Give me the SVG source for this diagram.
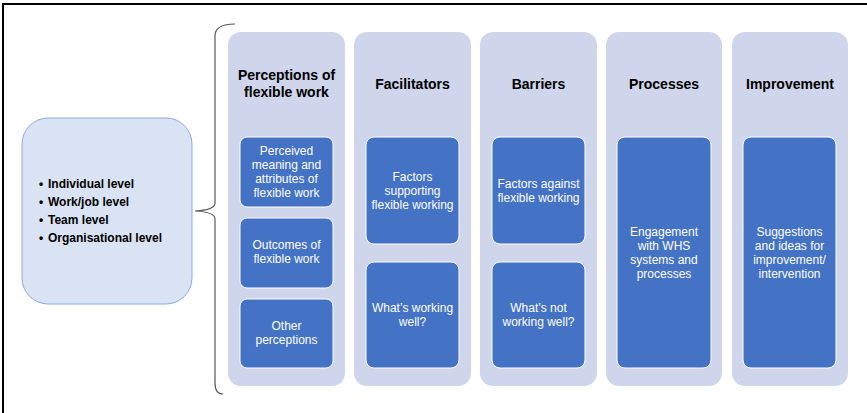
<svg xmlns="http://www.w3.org/2000/svg" width="867" height="413" viewBox="0 0 867 413">
<style>
.col{fill:#cfd5ea;}
.box{fill:#4472c4;stroke:#ffffff;stroke-width:1;}
.h{font-family:"Liberation Sans",Arial,sans-serif;font-size:14px;font-weight:bold;fill:#000;text-anchor:middle;}
.t{font-family:"Liberation Sans",Arial,sans-serif;font-size:12px;fill:#ffffff;text-anchor:middle;}
.l{font-family:"Liberation Sans",Arial,sans-serif;font-size:12px;font-weight:bold;fill:#000;}
</style>
<rect x="0" y="0" width="867" height="413" fill="#ffffff"/>
<rect x="3" y="4" width="880" height="430" fill="none" stroke="#000" stroke-width="2"/>
<g id="levels">
<rect x="22" y="118" width="170" height="186" rx="26" fill="#dae3f3" stroke="#8faadc" stroke-width="1"/>
<text class="l" x="39" y="188">•</text><text class="l" x="48" y="188">Individual level</text>
<text class="l" x="39" y="206">•</text><text class="l" x="48" y="206">Work/job level</text>
<text class="l" x="39" y="224">•</text><text class="l" x="48" y="224">Team level</text>
<text class="l" x="39" y="242">•</text><text class="l" x="48" y="242">Organisational level</text>
</g>
<g id="connectors">
<path d="M235,24 Q215,24 215,36 L215,203 Q215,210 195,211 Q215,212 215,219 L215,383 Q215,394 223,394" fill="none" stroke="#595959" stroke-width="1.2"/>
</g>
<g id="perceptions">
<rect class="col" x="228" y="32" width="117" height="354" rx="13"/>
<text class="h" x="286.5" y="80">Perceptions of</text>
<text class="h" x="286.5" y="97">flexible work</text>
<rect class="box" x="240" y="137" width="93" height="70" rx="7"/>
<text class="t" x="286.5" y="155">Perceived</text>
<text class="t" x="286.5" y="169">meaning and</text>
<text class="t" x="286.5" y="183">attributes of</text>
<text class="t" x="286.5" y="197">flexible work</text>
<rect class="box" x="240" y="218" width="93" height="70" rx="7"/>
<text class="t" x="286.5" y="249">Outcomes of</text>
<text class="t" x="286.5" y="263">flexible work</text>
<rect class="box" x="240" y="299" width="93" height="69" rx="7"/>
<text class="t" x="286.5" y="330">Other</text>
<text class="t" x="286.5" y="344">perceptions</text>
</g>
<g id="facilitators">
<rect class="col" x="354" y="32" width="117" height="354" rx="13"/>
<text class="h" x="412.5" y="89">Facilitators</text>
<rect class="box" x="366" y="137" width="93" height="107" rx="8"/>
<text class="t" x="412.5" y="181">Factors</text>
<text class="t" x="412.5" y="195">supporting</text>
<text class="t" x="412.5" y="209">flexible working</text>
<rect class="box" x="366" y="262" width="93" height="106" rx="8"/>
<text class="t" x="412.5" y="312">What’s working</text>
<text class="t" x="412.5" y="326">well?</text>
</g>
<g id="barriers">
<rect class="col" x="480" y="32" width="117" height="354" rx="13"/>
<text class="h" x="538.5" y="89">Barriers</text>
<rect class="box" x="492" y="137" width="93" height="107" rx="8"/>
<text class="t" x="538.5" y="188">Factors against</text>
<text class="t" x="538.5" y="202">flexible working</text>
<rect class="box" x="492" y="262" width="93" height="106" rx="8"/>
<text class="t" x="538.5" y="312">What’s not</text>
<text class="t" x="538.5" y="326">working well?</text>
</g>
<g id="processes">
<rect class="col" x="606" y="32" width="116" height="354" rx="13"/>
<text class="h" x="664" y="89">Processes</text>
<rect class="box" x="617" y="137" width="94" height="231" rx="8"/>
<text class="t" x="664" y="236">Engagement</text>
<text class="t" x="664" y="250">with WHS</text>
<text class="t" x="664" y="264">systems and</text>
<text class="t" x="664" y="278">processes</text>
</g>
<g id="improvement">
<rect class="col" x="732" y="32" width="116" height="354" rx="13"/>
<text class="h" x="790" y="89">Improvement</text>
<rect class="box" x="743" y="137" width="93" height="231" rx="8"/>
<text class="t" x="789.5" y="236">Suggestions</text>
<text class="t" x="789.5" y="250">and ideas for</text>
<text class="t" x="789.5" y="264">improvement/</text>
<text class="t" x="789.5" y="278">intervention</text>
</g>
</svg>
